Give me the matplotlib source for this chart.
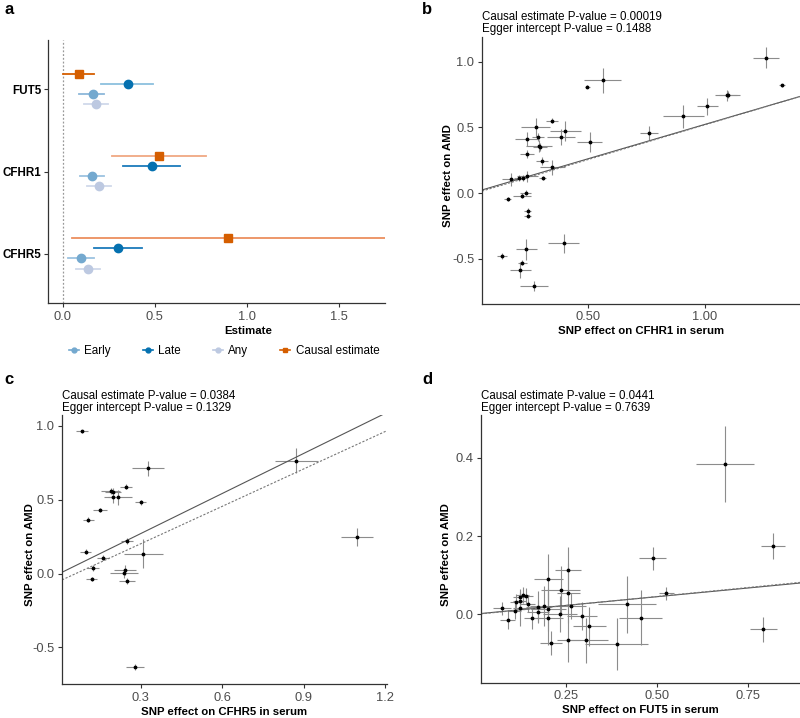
import numpy as np
import matplotlib.pyplot as plt
from matplotlib.lines import Line2D

plt.rcParams['font.family'] = ['Liberation Sans', 'DejaVu Sans']

# panel a - forest plot
genes = ["FUT5", "CFHR1", "CFHR5"]
groups = ["Causal estimate", "Late", "Early", "Any"]
est = {
    "Causal estimate": [0.09, 0.525, 0.90],
    "Late": [0.355, 0.485, 0.30],
    "Early": [0.165, 0.16, 0.10],
    "Any": [0.18, 0.195, 0.14],
}
lo = {
    "Causal estimate": [0.0, 0.27, 0.05],
    "Late": [0.21, 0.33, 0.17],
    "Early": [0.09, 0.095, 0.03],
    "Any": [0.115, 0.13, 0.07],
}
hi = {
    "Causal estimate": [0.17, 0.78, 2.0],
    "Late": [0.49, 0.635, 0.43],
    "Early": [0.225, 0.225, 0.17],
    "Any": [0.245, 0.26, 0.205],
}
point_col = {"Causal estimate": "#d55e00", "Late": "#0571b0", "Early": "#74a9cf", "Any": "#bdc9e1"}
bar_col = {
    "Causal estimate": ["#d55e00", "#f0a882", "#ec8f5e"],
    "Late": ["#8cc0de", "#1b7bbb", "#1b7bbb"],
    "Early": ["#8cb8da", "#9cc3e0", "#9cc3e0"],
    "Any": ["#d0d9ea", "#d0d9ea", "#d0d9ea"],
}
offsets = {"Causal estimate": -0.19, "Late": -0.07, "Early": 0.055, "Any": 0.18}

# panel b - CFHR1
b_x = [1.261, 1.329, 1.096, 1.098, 1.01, 0.907, 0.761, 0.564, 0.497, 0.507, 0.403, 0.386, 0.346,
       0.276, 0.24, 0.286, 0.29, 0.293, 0.239, 0.304, 0.347, 0.307, 0.24, 0.221, 0.173, 0.204,
       0.157, 0.233, 0.217, 0.243, 0.243, 0.236, 0.397, 0.133, 0.219, 0.211, 0.269]
b_y = [1.03, 0.819, 0.743, 0.75, 0.66, 0.585, 0.458, 0.86, 0.809, 0.387, 0.47, 0.425, 0.55,
       0.50, 0.412, 0.43, 0.361, 0.351, 0.30, 0.244, 0.196, 0.117, 0.127, 0.115, 0.107, 0.115,
       -0.046, 0.005, -0.018, -0.135, -0.17, -0.425, -0.382, -0.478, -0.527, -0.585, -0.707]
b_xe = [0.054, 0.014, 0.054, 0.04, 0.046, 0.087, 0.04, 0.079, 0.01, 0.053, 0.065, 0.06, 0.024,
        0.062, 0.05, 0.026, 0.055, 0.03, 0.03, 0.027, 0.054, 0.015, 0.045, 0.02, 0.04, 0.02,
        0.015, 0.025, 0.038, 0.015, 0.015, 0.044, 0.066, 0.02, 0.02, 0.044, 0.059]
b_ye = [0.08, 0.01, 0.045, 0.03, 0.064, 0.087, 0.05, 0.095, 0.01, 0.076, 0.076, 0.06, 0.02,
        0.07, 0.055, 0.03, 0.045, 0.03, 0.03, 0.03, 0.06, 0.015, 0.045, 0.02, 0.05, 0.02,
        0.015, 0.02, 0.02, 0.02, 0.02, 0.08, 0.07, 0.02, 0.02, 0.06, 0.04]

# panel c - CFHR5
c_x = [0.083, 0.327, 0.872, 1.096, 0.247, 0.189, 0.198, 0.198, 0.216, 0.30, 0.149, 0.106,
       0.25, 0.309, 0.097, 0.161, 0.124, 0.243, 0.239, 0.119, 0.25, 0.278]
c_y = [0.964, 0.713, 0.763, 0.25, 0.589, 0.562, 0.551, 0.517, 0.517, 0.483, 0.431, 0.366,
       0.221, 0.135, 0.149, 0.108, 0.038, 0.025, 0.002, -0.036, -0.05, -0.63]
c_xe = [0.022, 0.058, 0.08, 0.06, 0.022, 0.034, 0.03, 0.02, 0.052, 0.02, 0.025, 0.02,
        0.022, 0.072, 0.02, 0.023, 0.022, 0.04, 0.052, 0.02, 0.03, 0.033]
c_ye = [0.01, 0.05, 0.085, 0.06, 0.015, 0.02, 0.03, 0.04, 0.05, 0.015, 0.015, 0.015,
        0.02, 0.1, 0.015, 0.015, 0.02, 0.035, 0.03, 0.015, 0.02, 0.02]

# panel d - FUT5
d_x = [0.688, 0.819, 0.793, 0.489, 0.527, 0.418, 0.456, 0.39, 0.315, 0.294, 0.305, 0.257,
       0.257, 0.257, 0.264, 0.236, 0.234, 0.202, 0.202, 0.202, 0.209, 0.19, 0.175, 0.173,
       0.157, 0.145, 0.141, 0.132, 0.125, 0.123, 0.114, 0.125, 0.111, 0.074, 0.09]
d_y = [0.385, 0.175, -0.039, 0.143, 0.053, 0.025, -0.009, -0.077, -0.031, -0.005, -0.067, -0.067,
       0.113, 0.053, 0.021, 0.062, 0.0, 0.089, 0.012, -0.011, -0.074, 0.021, 0.019, 0.006,
       -0.009, 0.026, 0.046, 0.049, 0.044, 0.034, 0.032, 0.015, 0.008, 0.015, -0.014]
d_xe = [0.079, 0.033, 0.037, 0.038, 0.02, 0.079, 0.06, 0.087, 0.045, 0.041, 0.06, 0.032,
        0.036, 0.032, 0.043, 0.054, 0.046, 0.04, 0.048, 0.041, 0.03, 0.039, 0.034, 0.03,
        0.023, 0.02, 0.02, 0.018, 0.02, 0.018, 0.016, 0.02, 0.016, 0.025, 0.02]
d_ye = [0.098, 0.033, 0.032, 0.03, 0.016, 0.073, 0.07, 0.067, 0.05, 0.035, 0.058, 0.056,
        0.06, 0.077, 0.034, 0.06, 0.047, 0.066, 0.056, 0.068, 0.032, 0.051, 0.04, 0.03,
        0.028, 0.02, 0.02, 0.02, 0.02, 0.02, 0.02, 0.045, 0.02, 0.017, 0.025]

# (ivw slope, egger intercept, egger slope)
fits = {"b": (0.523, -0.009, 0.529), "c": (0.905, -0.051, 0.845), "d": (0.089, -0.001, 0.092)}
pvals = {
    "b": ("0.00019", "0.1488"),
    "c": ("0.0384", "0.1329"),
    "d": ("0.0441", "0.7639"),
}

fig = plt.figure(figsize=(8, 7.18), dpi=100)
tick_col = "#4d4d4d"


def classic(ax):
    for s in ["top", "right"]:
        ax.spines[s].set_visible(False)
    for s in ["left", "bottom"]:
        ax.spines[s].set_linewidth(0.9)
        ax.spines[s].set_color("#333333")
    ax.tick_params(labelsize=9.3, colors=tick_col, length=3, width=0.8, pad=2.5)
    ax.tick_params(axis="both", color="#333333")


# ---- a ----
ax = fig.add_axes([0.06, 0.578, 0.421, 0.366])
classic(ax)
ypos = np.arange(len(genes))[::-1]
ax.axvline(0, color="#999999", ls=(0, (1.5, 1.5)), lw=0.9)
for g in groups:
    for i in range(len(genes)):
        yy = ypos[i] - offsets[g]
        ax.plot([lo[g][i], hi[g][i]], [yy, yy], color=bar_col[g][i], lw=1.3, zorder=2)
        m = "s" if g == "Causal estimate" else "o"
        ax.plot(est[g][i], yy, marker=m, ms=6, color=point_col[g], ls="none", zorder=3)
ax.set_xlim(-0.08, 1.75)
ax.set_ylim(-0.6, 2.6)
ax.set_xticks([0, 0.5, 1.0, 1.5])
ax.set_xticklabels(["0.0", "0.5", "1.0", "1.5"])
ax.set_yticks(ypos)
ax.set_yticklabels(genes, fontweight="bold", color="black", fontsize=8.4)
ax.tick_params(axis="y", pad=2)
ax.set_xlabel("Estimate", fontweight="bold", fontsize=8.2)
ax.xaxis.set_label_coords(0.593, -0.088)

handles = []
for g in ["Early", "Late", "Any", "Causal estimate"]:
    m = "s" if g == "Causal estimate" else "o"
    handles.append(Line2D([], [], color=point_col[g], marker=m, ms=3.5, lw=1.2))
fig.legend(handles, ["Early", "Late", "Any", "Causal estimate"], ncol=4, frameon=False,
           loc="center", bbox_to_anchor=(0.28, 0.511), fontsize=8.4, handlelength=0.9,
           columnspacing=2.7, handletextpad=0.45)

# ---- scatter panels ----
panels = [
    ("b", [0.6025, 0.577, 0.3975, 0.372], b_x, b_y, b_xe, b_ye, "CFHR1",
     (0.047, 1.406), (-0.84, 1.19), [0.5, 1.0], ["0.50", "1.00"], [-0.5, 0.0, 0.5, 1.0], -0.09),
    ("c", [0.0775, 0.047, 0.406, 0.375], c_x, c_y, c_xe, c_ye, "CFHR5",
     (0.01, 1.205), (-0.749, 1.074), [0.3, 0.6, 0.9, 1.2], ["0.3", "0.6", "0.9", "1.2"], [-0.5, 0.0, 0.5, 1.0], -0.083),
    ("d", [0.601, 0.049, 0.399, 0.373], d_x, d_y, d_xe, d_ye, "FUT5",
     (0.0165, 0.894), (-0.176, 0.51), [0.25, 0.5, 0.75], ["0.25", "0.50", "0.75"], [0.0, 0.2, 0.4], -0.094),
]
for key, rect, xs, ys, xe, ye, gene, xl, yl, xt, xtl, yt, ylab_x in panels:
    ax = fig.add_axes(rect)
    classic(ax)
    ax.errorbar(xs, ys, xerr=xe, yerr=ye, fmt="none", ecolor="#8c8c8c", elinewidth=0.8, zorder=2)
    ax.plot(xs, ys, "k.", ms=3.5, zorder=3)
    xx = np.array(xl)
    slope, eg_int, eg_slope = fits[key]
    ax.plot(xx, slope * xx, color="#555555", lw=0.8)
    ax.plot(xx, eg_int + eg_slope * xx, color="#777777", lw=0.8, ls=(0, (2, 1.5)))
    ax.set_xlim(*xl)
    ax.set_ylim(*yl)
    ax.set_xticks(xt)
    ax.set_xticklabels(xtl)
    ax.set_yticks(yt)
    ax.set_yticklabels(["%.1f" % v for v in yt])
    ax.set_xlabel("SNP effect on %s in serum" % gene, fontweight="bold", fontsize=8.2)
    ax.set_ylabel("SNP effect on AMD", fontweight="bold", fontsize=8.2)
    ax.xaxis.set_label_coords(0.5, -0.083)
    ax.yaxis.set_label_coords(ylab_x, 0.48)
    p1, p2 = pvals[key]
    ax.text(0.0, 1.005, "Causal estimate P-value = %s\nEgger intercept P-value = %s" % (p1, p2),
            transform=ax.transAxes, fontsize=8.3, va="bottom", ha="left", linespacing=1.0)

# panel letters
for lab, x, y in [("a", 0.006, 0.997), ("b", 0.528, 0.997), ("c", 0.006, 0.482), ("d", 0.528, 0.482)]:
    fig.text(x, y, lab, fontsize=12, fontweight="bold", va="top")

plt.savefig("out.png", dpi=100)
